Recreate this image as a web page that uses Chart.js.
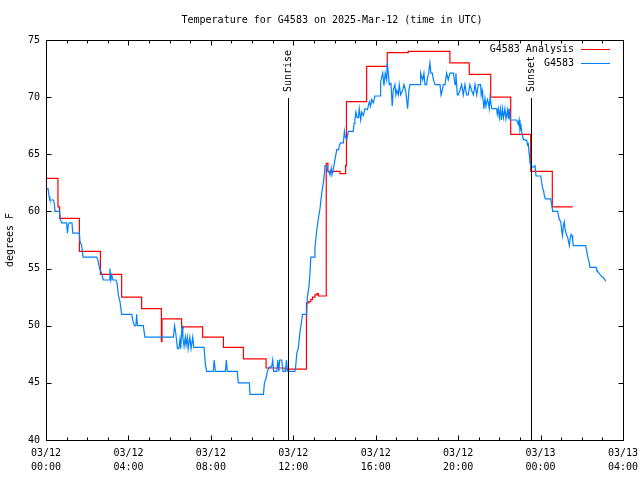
<!DOCTYPE html>
<html><head><meta charset="utf-8">
<script src="https://cdn.jsdelivr.net/npm/chart.js@4.4.1/dist/chart.umd.min.js"></script>
<style>html,body{margin:0;padding:0;background:#fff;}canvas{display:block;}</style>
</head><body>
<canvas id="c" width="640" height="480"></canvas>
<script>
const titleText = 'Temperature for G4583 on 2025-Mar-12 (time in UTC)';
const yAxisLabel = 'degrees F';
const xTickHours = [0, 4, 8, 12, 16, 20, 24, 28];
const xTickDates = ['03/12', '03/12', '03/12', '03/12', '03/12', '03/12', '03/13', '03/13'];
const xTickTimes = ['00:00', '04:00', '08:00', '12:00', '16:00', '20:00', '00:00', '04:00'];
const yTicks = [40, 45, 50, 55, 60, 65, 70, 75];
const seriesNames = ['G4583 Analysis', 'G4583'];
const sunLabels = ['Sunrise', 'Sunset'];
const sunHours = [11.76, 23.52];

// Analysis (hourly, held as steps) — hours since 03/12 00:00 UTC
const analysisHours = [0, 0.58, 0.66, 1.62, 2.64, 3.67, 4.64, 5.6, 5.63, 6.58, 6.66, 7.6, 8.61, 9.58, 10.68, 11.6,
  12.64, 12.75, 12.85, 12.93, 13.05, 13.15, 13.22, 13.6, 13.68, 14.27, 14.54, 14.58, 15.56, 16.56, 17.58,
  19.6, 20.54, 21.58, 22.55, 23.52, 24.57, 25.56];
const analysisTemps = [62.9, 60.4, 59.4, 56.5, 54.5, 52.5, 51.5, 48.6, 50.6, 49.8, 49.9, 49.0, 48.1, 47.1, 46.3, 46.2,
  52.0, 52.1, 52.3, 52.5, 52.7, 52.8, 52.6, 64.2, 63.5, 63.3, 64.0, 69.6, 72.7, 73.9, 74.0,
  73.0, 72.0, 70.0, 66.75, 63.5, 60.4, 60.4];

// Observations
const obsHours = [0.00, 0.10, 0.15, 0.19, 0.36, 0.40, 0.44, 0.66, 0.70, 0.76, 1.00, 1.04, 1.08, 1.12, 1.26, 1.30, 1.62, 1.65, 1.73, 1.80,
  2.46, 2.54, 2.60, 2.70, 2.78, 3.06, 3.10, 3.15, 3.19, 3.25, 3.40, 3.45, 3.51, 3.59, 3.67, 4.16, 4.22, 4.29, 4.36, 4.40,
  4.44, 4.72, 4.80, 6.18, 6.24, 6.30, 6.38, 6.45, 6.50, 6.54, 6.60, 6.64, 6.70, 6.76, 6.80, 6.86, 6.90, 6.98, 7.04, 7.12,
  7.17, 7.67, 7.74, 7.80, 8.12, 8.16, 8.22, 8.71, 8.75, 8.80, 9.28, 9.33, 9.87, 9.90, 10.55, 10.60, 10.68, 10.74, 10.84, 10.95,
  11.00, 11.05, 11.20, 11.25, 11.30, 11.34, 11.44, 11.50, 11.62, 11.67, 11.72, 12.08, 12.12, 12.17, 12.24, 12.33, 12.41, 12.45, 12.65, 12.68,
  12.76, 12.81, 12.85, 13.02, 13.05, 13.14, 13.22, 13.30, 13.38, 13.46, 13.51, 13.54, 13.62, 13.66, 13.72, 13.78, 13.84, 13.88, 13.94, 13.99,
  14.04, 14.11, 14.20, 14.24, 14.30, 14.43, 14.48, 14.52, 14.60, 14.67, 14.91, 14.95, 14.99, 15.04, 15.10, 15.16, 15.20, 15.27, 15.32, 15.40,
  15.48, 15.60, 15.69, 15.75, 15.80, 15.88, 15.96, 16.21, 16.24, 16.34, 16.40, 16.46, 16.53, 16.56, 16.61, 16.66, 16.74, 16.80, 16.85, 16.93,
  16.98, 17.02, 17.10, 17.14, 17.21, 17.31, 17.37, 17.45, 17.50, 17.55, 17.61, 17.66, 18.15, 18.18, 18.28, 18.34, 18.39, 18.47, 18.50, 18.57,
  18.63, 18.68, 18.75, 18.79, 18.88, 19.12, 19.17, 19.23, 19.28, 19.36, 19.44, 19.52, 19.60, 19.77, 19.85, 19.89, 19.96, 20.01, 20.09, 20.17,
  20.25, 20.33, 20.41, 20.49, 20.57, 20.65, 20.74, 20.82, 20.90, 20.98, 21.09, 21.12, 21.16, 21.19, 21.22, 21.25, 21.30, 21.35, 21.42, 21.47,
  21.51, 21.55, 21.63, 21.87, 21.90, 21.95, 22.00, 22.05, 22.10, 22.15, 22.20, 22.27, 22.32, 22.40, 22.44, 22.48, 22.52, 22.84, 22.88, 22.92,
  22.96, 23.00, 23.05, 23.10, 23.16, 23.33, 23.37, 23.41, 23.44, 23.46, 23.49, 23.52, 23.57, 23.68, 23.73, 23.78, 24.01, 24.05, 24.10, 24.14,
  24.18, 24.23, 24.49, 24.54, 24.59, 24.83, 24.86, 24.91, 24.98, 25.02, 25.06, 25.11, 25.15, 25.19, 25.27, 25.32, 25.35, 25.40, 25.43, 25.48,
  25.53, 25.56, 25.59, 26.19, 26.24, 26.29, 26.35, 26.40, 26.69, 26.72, 26.80, 26.88, 26.97, 27.05, 27.16];
const obsTemps = [62.0, 62.0, 61.3, 61.0, 61.0, 60.7, 60.0, 60.0, 59.3, 59.0, 59.0, 58.1, 58.8, 59.0, 59.0, 58.1, 58.1, 57.4, 57.0, 56.0,
  56.0, 55.6, 55.0, 54.6, 54.0, 54.0, 55.0, 54.0, 54.4, 54.0, 54.0, 53.7, 52.7, 52.1, 51.0, 51.0, 50.4, 50.0, 50.0, 51.0,
  50.0, 50.0, 49.0, 49.0, 50.0, 49.3, 48.0, 48.0, 48.8, 48.0, 50.0, 49.0, 48.2, 49.0, 48.3, 49.0, 48.0, 49.0, 48.0, 49.0,
  48.1, 48.1, 46.5, 46.0, 46.0, 47.0, 46.0, 46.0, 47.0, 46.0, 46.0, 45.0, 45.0, 44.0, 44.0, 45.0, 45.4, 46.0, 46.4, 46.4,
  47.0, 46.0, 46.0, 47.0, 46.0, 47.0, 47.0, 46.0, 46.0, 47.0, 46.0, 46.0, 46.5, 47.6, 48.0, 49.5, 50.5, 51.0, 51.0, 52.5,
  53.4, 54.6, 56.0, 56.0, 56.8, 58.4, 59.4, 60.3, 61.6, 62.5, 63.3, 64.0, 64.0, 63.5, 63.5, 63.2, 63.8, 63.2, 63.7, 64.2,
  64.7, 65.4, 65.4, 65.8, 66.0, 66.0, 67.0, 66.5, 66.3, 67.0, 67.0, 67.7, 68.0, 68.7, 68.2, 68.2, 69.0, 68.0, 68.7, 68.4,
  69.0, 68.9, 69.6, 69.2, 69.8, 69.5, 70.1, 70.1, 71.35, 72.1, 71.0, 72.1, 71.5, 73.0, 72.1, 71.1, 71.2, 69.2, 70.6, 71.1,
  70.2, 70.6, 70.2, 71.1, 70.2, 70.6, 71.1, 70.6, 69.8, 69.0, 70.6, 71.1, 71.1, 72.1, 71.5, 72.1, 71.1, 71.1, 71.6, 72.1,
  73.0, 72.1, 72.1, 71.6, 71.1, 71.1, 70.2, 70.6, 71.1, 71.1, 72.1, 71.5, 72.1, 72.1, 71.1, 72.1, 70.2, 70.2, 70.6, 71.1,
  70.2, 71.1, 70.2, 70.2, 71.1, 70.6, 70.2, 71.1, 70.2, 71.1, 71.1, 70.2, 70.6, 70.0, 69.6, 69.0, 69.9, 69.2, 69.8, 69.5,
  69.0, 70.0, 69.0, 69.0, 68.5, 69.0, 68.2, 69.0, 68.0, 69.0, 68.2, 69.0, 68.1, 68.9, 68.1, 69.0, 68.0, 68.0, 67.8, 67.6,
  68.0, 67.1, 67.5, 66.8, 66.3, 66.2, 65.8, 65.9, 65.1, 64.9, 64.2, 64.0, 63.9, 63.9, 64.0, 63.1, 63.1, 62.6, 62.0, 61.9,
  61.4, 61.1, 61.1, 60.6, 60.0, 60.0, 59.7, 59.3, 59.1, 58.4, 57.9, 58.8, 59.1, 58.4, 57.9, 57.7, 57.4, 57.0, 57.6, 58.0,
  57.9, 57.4, 57.0, 57.0, 56.5, 56.0, 55.6, 55.1, 55.1, 54.9, 54.7, 54.5, 54.3, 54.2, 53.9];

const FONT_FAMILY = '"DejaVu Sans Mono", "Liberation Mono", monospace';
const FONT = '10px ' + FONT_FAMILY;
const RED = '#ff0000';
const BLUE = '#0080ff';

const gnuplotDecor = {
  id: 'gnuplotDecor',
  afterDatasetsDraw(chart) {
    const {ctx, chartArea: a, scales: {x, y}} = chart;
    ctx.save();
    ctx.strokeStyle = '#000';
    ctx.lineWidth = 1;
    const L = Math.round(a.left) + 0.5, R = Math.round(a.right) + 0.5;
    const T = Math.round(a.top) + 0.5, B = Math.round(a.bottom) + 0.5;
    ctx.beginPath();
    for (let h = x.min; h <= x.max; h++) {
      const px = Math.round(x.getPixelForValue(h)) + 0.5;
      const len = xTickHours.includes(h) ? 5 : 3;
      ctx.moveTo(px, B); ctx.lineTo(px, B - len);
      ctx.moveTo(px, T); ctx.lineTo(px, T + len);
    }
    yTicks.forEach(v => {
      const py = Math.round(y.getPixelForValue(v)) + 0.5;
      ctx.moveTo(L, py); ctx.lineTo(L + 5, py);
      ctx.moveTo(R, py); ctx.lineTo(R - 5, py);
    });
    ctx.stroke();
    ctx.strokeRect(L, T, R - L, B - T);

    ctx.fillStyle = '#000';
    ctx.font = FONT;
    sunHours.forEach((h, i) => {
      const px = Math.round(x.getPixelForValue(h)) + 0.5;
      ctx.beginPath();
      ctx.moveTo(px, 98); ctx.lineTo(px, B);
      ctx.stroke();
      ctx.save();
      ctx.translate(px, 92);
      ctx.rotate(-Math.PI / 2);
      ctx.textAlign = 'left';
      ctx.textBaseline = 'middle';
      ctx.fillText(sunLabels[i], 0, 0);
      ctx.restore();
    });

    const legendColors = [RED, BLUE];
    const legendY = [49, 63];
    seriesNames.forEach((name, i) => {
      ctx.textAlign = 'right';
      ctx.textBaseline = 'middle';
      ctx.fillStyle = '#000';
      ctx.fillText(name, 574, legendY[i]);
      ctx.strokeStyle = legendColors[i];
      ctx.beginPath();
      ctx.moveTo(581, legendY[i] + 0.5); ctx.lineTo(610, legendY[i] + 0.5);
      ctx.stroke();
    });

    ctx.fillStyle = '#000';
    ctx.textAlign = 'center';
    ctx.textBaseline = 'middle';
    ctx.fillText(titleText, 332, 20);
    ctx.restore();
  }
};

new Chart(document.getElementById('c'), {
  type: 'line',
  data: {
    datasets: [
      {label: seriesNames[1], data: obsHours.map((h, i) => ({x: h, y: obsTemps[i]})),
       borderColor: BLUE, borderWidth: 1.2, pointRadius: 0, tension: 0, fill: false},
      {label: seriesNames[0], data: analysisHours.map((h, i) => ({x: h, y: analysisTemps[i]})),
       borderColor: RED, borderWidth: 1.2, pointRadius: 0, stepped: true, fill: false}
    ]
  },
  options: {
    responsive: false,
    animation: false,
    events: [],
    layout: {padding: {top: 40, right: 17, left: 0, bottom: 0}},
    plugins: {legend: {display: false}, title: {display: false}, tooltip: {enabled: false}},
    scales: {
      x: {
        type: 'linear', min: 0, max: 28, position: 'bottom',
        afterBuildTicks: s => { s.ticks = xTickHours.map(v => ({value: v})); },
        ticks: {autoSkip: false, maxRotation: 0, minRotation: 0, padding: 6, color: '#000',
                font: {family: FONT_FAMILY, size: 10, lineHeight: 1.4},
                callback: (v, i) => [xTickDates[i], xTickTimes[i]]},
        grid: {display: false, drawTicks: false},
        border: {display: false},
        afterFit: s => { s.height = 40; s.paddingLeft = 0; s.paddingRight = 0; }
      },
      y: {
        type: 'linear', min: 40, max: 75, position: 'left',
        afterBuildTicks: s => { s.ticks = yTicks.map(v => ({value: v})); },
        ticks: {padding: 6, color: '#000', font: {family: FONT_FAMILY, size: 10}},
        grid: {display: false, drawTicks: false},
        border: {display: false},
        title: {display: true, text: yAxisLabel, color: '#000',
                font: {family: FONT_FAMILY, size: 10}, padding: {top: 4, bottom: 0}},
        afterFit: s => { s.width = 46; s.paddingTop = 0; s.paddingBottom = 0; }
      }
    }
  },
  plugins: [gnuplotDecor]
});
</script>
</body></html>
